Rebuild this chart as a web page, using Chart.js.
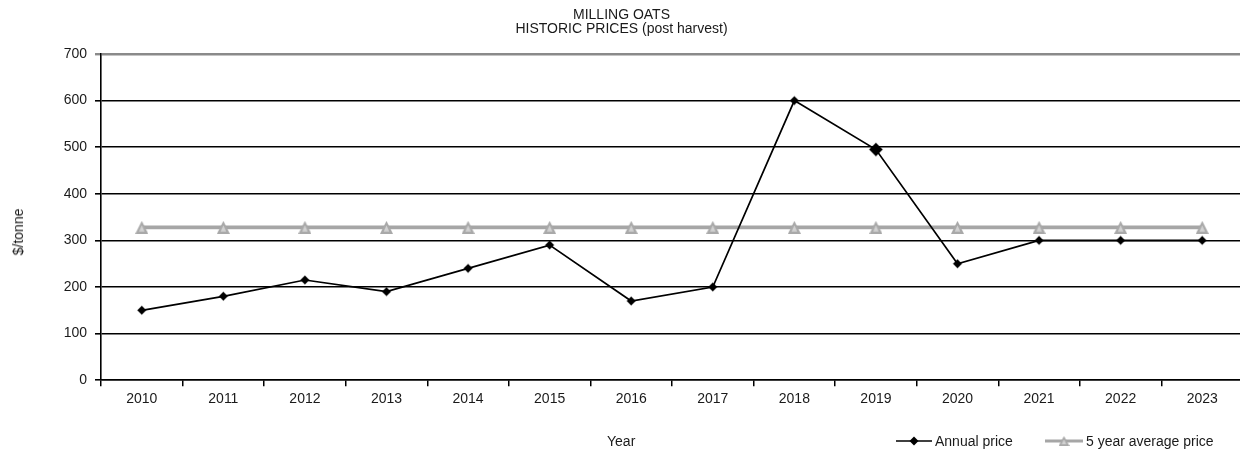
<!DOCTYPE html>
<html>
<head>
<meta charset="utf-8">
<title>Milling oats historic prices</title>
<script src="https://cdn.jsdelivr.net/npm/chart.js@4/dist/chart.umd.min.js"></script>
<style>
  html, body { margin: 0; padding: 0; background: #fff; overflow: hidden; }
  #wrap { position: relative; width: 1243px; height: 452px; }
  #wrap canvas#chart { display: block; }
  .note {
    position: absolute; font: 14px 'Liberation Sans', Arial, sans-serif; color: #1a1a1a;
    line-height: 16px; white-space: nowrap;
  }
  .ytitle { left: 18px; top: 232px; transform: translate(-50%, -50%) rotate(-90deg); }
  .key { position: absolute; top: 433px; display: flex; align-items: center;
    font: 14px 'Liberation Sans', Arial, sans-serif; color: #1a1a1a; white-space: nowrap; }
  .key canvas { display: block; margin-right: 3px; }
</style>
</head>
<body>
<div id="wrap">
  <canvas id="chart" width="1243" height="452"></canvas>
  <div class="note ytitle">$/tonne</div>
  <div class="note" style="left:607px; top:433px;">Year</div>
  <div class="key" style="left:896px;"><canvas id="keyAnnual" width="36" height="14"></canvas><span>Annual price</span></div>
  <div class="key" style="left:1045px;"><canvas id="keyAvg" width="38" height="14"></canvas><span>5 year average price</span></div>
</div>
<script>
'use strict';

// ---- data ------------------------------------------------------------
const YEARS        = ['2010', '2011', '2012', '2013', '2014', '2015', '2016',
                      '2017', '2018', '2019', '2020', '2021', '2022', '2023'];
const ANNUAL_PRICE = [150, 180, 215, 190, 240, 290, 170, 200, 600, 495, 250, 300, 300, 300];
const AVG_PRICE    = [328, 328, 328, 328, 328, 328, 328, 328, 328, 328, 328, 328, 328, 328];
const Y_TICKS      = [0, 100, 200, 300, 400, 500, 600, 700];

const FONT = "'Liberation Sans', Arial, sans-serif";
const INK  = '#1a1a1a';
const GREY = '#a6a6a6';

// the 2019 marker is drawn a little heavier than the rest
const annualRadius = YEARS.map(y => (y === '2019' ? 6.5 : 4.2));

// triangle marker centred on its bounding box (Chart.js centres on the centroid)
function triangleSprite(w, h) {
  const c = document.createElement('canvas');
  c.width = w; c.height = h;
  const g = c.getContext('2d');
  g.fillStyle = '#a9a9a9';
  g.beginPath(); g.moveTo(w / 2, 0); g.lineTo(w, h); g.lineTo(0, h); g.closePath(); g.fill();
  g.fillStyle = '#d2d2d2';
  g.beginPath(); g.moveTo(w / 2, h * 0.35); g.lineTo(w * 0.72, h * 0.82); g.lineTo(w * 0.28, h * 0.82); g.closePath(); g.fill();
  return c;
}
const TRIANGLE = triangleSprite(13, 13);

// ---- legend keys (line + marker swatches) ---------------------------
function drawKey(id, color, width, marker) {
  const c = document.getElementById(id);
  const g = c.getContext('2d');
  const cy = c.height / 2, cx = c.width / 2;
  g.strokeStyle = color;
  g.lineWidth = width;
  g.beginPath(); g.moveTo(0, cy); g.lineTo(c.width, cy); g.stroke();
  if (marker === 'diamond') {
    g.fillStyle = '#000';
    g.beginPath();
    g.moveTo(cx, cy - 4.5); g.lineTo(cx + 4.5, cy); g.lineTo(cx, cy + 4.5); g.lineTo(cx - 4.5, cy);
    g.closePath(); g.fill();
  } else {
    const t = triangleSprite(11, 10);
    g.drawImage(t, cx - 5.5, cy - 5);
  }
}
drawKey('keyAnnual', '#000', 1.6, 'diamond');
drawKey('keyAvg', GREY, 3.2, 'triangle');

// ---- chart -----------------------------------------------------------
Chart.defaults.font.family = FONT;
Chart.defaults.font.size = 14;
Chart.defaults.color = INK;

new Chart(document.getElementById('chart'), {
  type: 'line',
  data: {
    labels: YEARS,
    datasets: [
      {
        label: 'Annual price',
        data: ANNUAL_PRICE,
        borderColor: '#000',
        borderWidth: 1.7,
        backgroundColor: '#000',
        pointStyle: 'rectRot',
        pointRadius: annualRadius,
        pointBorderColor: 'rgba(0,0,0,0.35)',
        pointBorderWidth: 1.2,
        tension: 0
      },
      {
        label: '5 year average price',
        data: AVG_PRICE,
        borderColor: GREY,
        borderWidth: 3.6,
        backgroundColor: '#bdbdbd',
        pointStyle: TRIANGLE,
        pointRadius: 6,
        tension: 0
      }
    ]
  },
  options: {
    responsive: false,
    animation: false,
    // keep the plot edges fixed regardless of marker size
    layout: { autoPadding: false, padding: { left: 0, right: 0, top: 0, bottom: 39 } },
    plugins: {
      legend: { display: false },
      tooltip: { enabled: false },
      title: {
        display: true,
        text: ['MILLING OATS', 'HISTORIC PRICES (post harvest)'],
        color: INK,
        font: { size: 14, weight: 'normal', lineHeight: 1.0 },
        padding: { top: 8, bottom: 18 }
      }
    },
    scales: {
      x: {
        offset: true,
        grid: {
          offset: true,
          drawOnChartArea: false,
          drawTicks: true,
          tickLength: 6,
          color: '#000',
          lineWidth: 1.5
        },
        border: { color: '#000', width: 1.5 },
        ticks: { padding: 5, color: INK, maxRotation: 0 }
      },
      y: {
        min: 0,
        max: 700,
        afterBuildTicks: s => { s.ticks = Y_TICKS.map(v => ({ value: v })); },
        afterFit: s => { s.width = 101; },
        grid: {
          color: c => (c.tick && c.tick.value === 700 ? '#8a8a8a' : '#000'),
          lineWidth: c => (c.tick && c.tick.value === 700 ? 2.4 : 1.6),
          tickLength: 6
        },
        border: { color: '#000', width: 1.6 },
        ticks: { padding: 8, color: INK }
      }
    }
  }
});
</script>
</body>
</html>
